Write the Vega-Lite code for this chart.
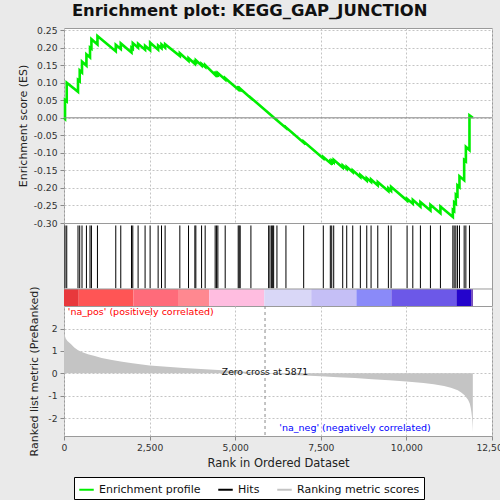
{
  "$schema": "https://vega.github.io/schema/vega-lite/v6.json",
  "background": "#eaeaea",
  "padding": {"left": 16, "top": 3, "right": 0, "bottom": 0},
  "title": {
    "text": "Enrichment plot: KEGG_GAP_JUNCTION",
    "font": "DejaVu Sans",
    "fontSize": 16.4,
    "fontWeight": "bold",
    "color": "#111111",
    "anchor": "middle",
    "dx": -13,
    "offset": 6
  },
  "datasets": {
    "es": [
      {"rank": 0, "es": 0.0},
      {"rank": 30, "es": -0.003}, {"rank": 30, "es": 0.051},
      {"rank": 80, "es": 0.047}, {"rank": 80, "es": 0.100},
      {"rank": 409, "es": 0.074}, {"rank": 409, "es": 0.108},
      {"rank": 459, "es": 0.104}, {"rank": 459, "es": 0.135},
      {"rank": 526, "es": 0.129}, {"rank": 526, "es": 0.160},
      {"rank": 655, "es": 0.149}, {"rank": 655, "es": 0.181},
      {"rank": 760, "es": 0.172}, {"rank": 760, "es": 0.200},
      {"rank": 801, "es": 0.197}, {"rank": 801, "es": 0.224},
      {"rank": 977, "es": 0.209}, {"rank": 977, "es": 0.233},
      {"rank": 1512, "es": 0.190}, {"rank": 1512, "es": 0.208},
      {"rank": 1658, "es": 0.196}, {"rank": 1658, "es": 0.212},
      {"rank": 1971, "es": 0.186}, {"rank": 1971, "es": 0.200},
      {"rank": 2009, "es": 0.197}, {"rank": 2009, "es": 0.213},
      {"rank": 2164, "es": 0.200}, {"rank": 2164, "es": 0.211},
      {"rank": 2368, "es": 0.194}, {"rank": 2368, "es": 0.205},
      {"rank": 2515, "es": 0.193}, {"rank": 2515, "es": 0.214},
      {"rank": 2749, "es": 0.194}, {"rank": 2749, "es": 0.206},
      {"rank": 2848, "es": 0.198}, {"rank": 2848, "es": 0.209},
      {"rank": 2953, "es": 0.200}, {"rank": 2953, "es": 0.210},
      {"rank": 3383, "es": 0.176}, {"rank": 3383, "es": 0.184},
      {"rank": 3637, "es": 0.162}, {"rank": 3637, "es": 0.170},
      {"rank": 3822, "es": 0.154}, {"rank": 3822, "es": 0.160},
      {"rank": 3851, "es": 0.158}, {"rank": 3851, "es": 0.164},
      {"rank": 4018, "es": 0.149}, {"rank": 4018, "es": 0.154},
      {"rank": 4123, "es": 0.145}, {"rank": 4123, "es": 0.150},
      {"rank": 4415, "es": 0.122}, {"rank": 4415, "es": 0.126},
      {"rank": 4456, "es": 0.1225}, {"rank": 4456, "es": 0.1265},
      {"rank": 4494, "es": 0.1233}, {"rank": 4494, "es": 0.1273},
      {"rank": 4708, "es": 0.109}, {"rank": 4708, "es": 0.113},
      {"rank": 5088, "es": 0.081}, {"rank": 5088, "es": 0.084},
      {"rank": 5117, "es": 0.0815}, {"rank": 5117, "es": 0.0835},
      {"rank": 5146, "es": 0.081}, {"rank": 5146, "es": 0.083},
      {"rank": 5459, "es": 0.056}, {"rank": 5459, "es": 0.057},
      {"rank": 6219, "es": -0.007},
      {"rank": 6482, "es": -0.029}, {"rank": 6482, "es": -0.027},
      {"rank": 7000, "es": -0.071}, {"rank": 7000, "es": -0.068},
      {"rank": 7573, "es": -0.116}, {"rank": 7573, "es": -0.112},
      {"rank": 7778, "es": -0.129}, {"rank": 7778, "es": -0.124},
      {"rank": 7819, "es": -0.1275}, {"rank": 7819, "es": -0.122},
      {"rank": 7877, "es": -0.127}, {"rank": 7877, "es": -0.120},
      {"rank": 8140, "es": -0.142}, {"rank": 8140, "es": -0.136},
      {"rank": 8257, "es": -0.146}, {"rank": 8257, "es": -0.140},
      {"rank": 8433, "es": -0.155}, {"rank": 8433, "es": -0.150},
      {"rank": 8655, "es": -0.169}, {"rank": 8655, "es": -0.163},
      {"rank": 8842, "es": -0.179}, {"rank": 8842, "es": -0.172},
      {"rank": 8968, "es": -0.183}, {"rank": 8968, "es": -0.176},
      {"rank": 9164, "es": -0.193}, {"rank": 9164, "es": -0.183},
      {"rank": 9474, "es": -0.209}, {"rank": 9474, "es": -0.201},
      {"rank": 9553, "es": -0.208}, {"rank": 9553, "es": -0.197},
      {"rank": 10020, "es": -0.236}, {"rank": 10020, "es": -0.231},
      {"rank": 10187, "es": -0.245}, {"rank": 10187, "es": -0.234},
      {"rank": 10409, "es": -0.253}, {"rank": 10409, "es": -0.240},
      {"rank": 10702, "es": -0.264}, {"rank": 10702, "es": -0.248},
      {"rank": 10994, "es": -0.272}, {"rank": 10994, "es": -0.253},
      {"rank": 11357, "es": -0.283}, {"rank": 11357, "es": -0.263},
      {"rank": 11395, "es": -0.266}, {"rank": 11395, "es": -0.241},
      {"rank": 11444, "es": -0.245}, {"rank": 11444, "es": -0.219},
      {"rank": 11491, "es": -0.223}, {"rank": 11491, "es": -0.193},
      {"rank": 11550, "es": -0.198}, {"rank": 11550, "es": -0.167},
      {"rank": 11687, "es": -0.178}, {"rank": 11687, "es": -0.120},
      {"rank": 11737, "es": -0.124}, {"rank": 11737, "es": -0.083},
      {"rank": 11842, "es": -0.092}, {"rank": 11842, "es": 0.007},
      {"rank": 11940, "es": 0.0}
    ],
    "hits": [
      {"rank": 30}, {"rank": 80}, {"rank": 409}, {"rank": 459}, {"rank": 526},
      {"rank": 655}, {"rank": 760}, {"rank": 801}, {"rank": 977}, {"rank": 1512},
      {"rank": 1658}, {"rank": 1971}, {"rank": 2009}, {"rank": 2164}, {"rank": 2368},
      {"rank": 2515}, {"rank": 2749}, {"rank": 2848}, {"rank": 2953}, {"rank": 3383},
      {"rank": 3637}, {"rank": 3822}, {"rank": 3851}, {"rank": 4018}, {"rank": 4123},
      {"rank": 4415}, {"rank": 4456}, {"rank": 4494}, {"rank": 4708}, {"rank": 5088},
      {"rank": 5117}, {"rank": 5146}, {"rank": 5459}, {"rank": 5977}, {"rank": 6015},
      {"rank": 6064}, {"rank": 6094}, {"rank": 6123}, {"rank": 6219}, {"rank": 6482},
      {"rank": 7000}, {"rank": 7573}, {"rank": 7778}, {"rank": 7819}, {"rank": 7877},
      {"rank": 8140}, {"rank": 8257}, {"rank": 8433}, {"rank": 8655}, {"rank": 8842},
      {"rank": 8968}, {"rank": 9164}, {"rank": 9474}, {"rank": 9553}, {"rank": 10020},
      {"rank": 10187}, {"rank": 10409}, {"rank": 10702}, {"rank": 10994}, {"rank": 11357},
      {"rank": 11395}, {"rank": 11444}, {"rank": 11491}, {"rank": 11550}, {"rank": 11687},
      {"rank": 11737}, {"rank": 11842}
    ],
    "metric": [
      {"rank": 0, "m": 1.88}, {"rank": 10, "m": 1.78}, {"rank": 30, "m": 1.66},
      {"rank": 50, "m": 1.56}, {"rank": 100, "m": 1.45}, {"rank": 200, "m": 1.31},
      {"rank": 300, "m": 1.16}, {"rank": 400, "m": 1.04}, {"rank": 500, "m": 0.96},
      {"rank": 700, "m": 0.85}, {"rank": 900, "m": 0.77}, {"rank": 1100, "m": 0.69},
      {"rank": 1400, "m": 0.60}, {"rank": 1700, "m": 0.52}, {"rank": 2000, "m": 0.45},
      {"rank": 2500, "m": 0.35}, {"rank": 3000, "m": 0.29}, {"rank": 3500, "m": 0.24},
      {"rank": 4000, "m": 0.19}, {"rank": 4500, "m": 0.15}, {"rank": 5000, "m": 0.11},
      {"rank": 5500, "m": 0.05}, {"rank": 5871, "m": 0.0}, {"rank": 6200, "m": -0.03},
      {"rank": 6700, "m": -0.07}, {"rank": 7500, "m": -0.13}, {"rank": 8000, "m": -0.17},
      {"rank": 8500, "m": -0.21}, {"rank": 9000, "m": -0.26}, {"rank": 9500, "m": -0.31},
      {"rank": 10000, "m": -0.36}, {"rank": 10500, "m": -0.43}, {"rank": 10800, "m": -0.49},
      {"rank": 11100, "m": -0.56}, {"rank": 11300, "m": -0.64}, {"rank": 11500, "m": -0.76},
      {"rank": 11600, "m": -0.86}, {"rank": 11700, "m": -0.98}, {"rank": 11800, "m": -1.18},
      {"rank": 11850, "m": -1.35}, {"rank": 11880, "m": -1.55}, {"rank": 11900, "m": -1.75},
      {"rank": 11915, "m": -1.95}, {"rank": 11925, "m": -2.15}, {"rank": 11935, "m": -2.45},
      {"rank": 11940, "m": -2.62}
    ],
    "band": [
      {"start": 0, "end": 430, "seg": 0},
      {"start": 430, "end": 2030, "seg": 1},
      {"start": 2030, "end": 3330, "seg": 2},
      {"start": 3330, "end": 4240, "seg": 3},
      {"start": 4240, "end": 5850, "seg": 4},
      {"start": 5850, "end": 7220, "seg": 5},
      {"start": 7220, "end": 8540, "seg": 6},
      {"start": 8540, "end": 9560, "seg": 7},
      {"start": 9560, "end": 11460, "seg": 8},
      {"start": 11460, "end": 11900, "seg": 9},
      {"start": 11900, "end": 11940, "seg": 10}
    ]
  },
  "spacing": 0,
  "bounds": "flush",
  "resolve": {"scale": {"color": "shared"}, "legend": {"color": "shared"}},
  "vconcat": [
    {
      "width": 428,
      "height": 195,
      "layer": [
        {
          "data": {"name": "es"},
          "mark": {"type": "line", "strokeWidth": 2.6},
          "encoding": {
            "x": {
              "field": "rank", "type": "quantitative", "sort": null,
              "scale": {"domain": [0, 12500], "nice": false},
              "axis": {"labels": false, "ticks": false, "title": null, "grid": true, "tickCount": 20, "values": [0, 2500, 5000, 7500, 10000, 12500]}
            },
            "y": {
              "field": "es", "type": "quantitative",
              "scale": {"domain": [-0.3, 0.256], "nice": false, "zero": false},
              "axis": {
                "title": "Enrichment score (ES)",
                "values": [-0.3, -0.25, -0.2, -0.15, -0.1, -0.05, 0, 0.05, 0.1, 0.15, 0.2, 0.25],
                "tickCount": 30,
                "labelExpr": "replace(format(datum.value, '.2f'), '\u2212', '-')",
                "labelOverlap": false,
                "labelFlush": false,
                "titlePadding": 5
              }
            },
            "color": {
              "datum": "Enrichment profile", "type": "nominal",
              "scale": {"domain": ["Enrichment profile", "Hits", "Ranking metric scores"], "range": ["#00ee00", "#000000", "#c4c4c4"]},
              "legend": {
                "orient": "none", "legendX": 10, "legendY": 449, "direction": "horizontal",
                "title": null, "symbolType": "stroke", "symbolSize": 210, "symbolStrokeWidth": 2,
                "labelFontSize": 11, "labelFont": "DejaVu Sans", "labelColor": "#111111",
                "columnPadding": 13, "padding": 4, "strokeColor": "#000000", "fillColor": "#ffffff",
                "encode": {"symbols": {"update": {"stroke": {"scale": "color", "field": "value"}, "strokeWidth": {"value": 2}, "fill": {"value": "transparent"}}}}
              }
            }
          }
        },
        {
          "data": {"values": [{"z": 0}]},
          "mark": {"type": "rule", "color": "#8a8a8a", "strokeWidth": 1},
          "encoding": {
            "y": {"field": "z", "type": "quantitative"}
          }
        }
      ]
    },
    {
      "width": 428,
      "height": 83,
      "layer": [
        {
          "data": {"name": "band"},
          "mark": {"type": "rect"},
          "encoding": {
            "x": {"field": "start", "type": "quantitative", "scale": {"domain": [0, 12500], "nice": false}, "axis": null},
            "x2": {"field": "end"},
            "y": {"datum": 0, "type": "quantitative", "scale": {"domain": [0, 1], "nice": false}, "axis": null},
            "y2": {"datum": 0.205},
            "fill": {
              "field": "seg", "type": "ordinal",
              "scale": {"domain": [0, 1, 2, 3, 4, 5, 6, 7, 8, 9, 10], "range": ["#e8383c", "#ff5555", "#ff6b7a", "#ff8890", "#ffbde0", "#d9d7f7", "#c5bff6", "#8a8af9", "#6c58e8", "#2404cc", "#5a2aa8"]},
              "legend": null
            }
          }
        },
        {
          "data": {"values": [{"z": 0.205}]},
          "mark": {"type": "rule", "color": "#9a9a9a", "strokeWidth": 1},
          "encoding": {"y": {"field": "z", "type": "quantitative", "axis": null}}
        },
        {
          "data": {"name": "hits"},
          "mark": {"type": "rule", "strokeWidth": 1},
          "encoding": {
            "x": {"field": "rank", "type": "quantitative", "axis": null},
            "y": {"datum": 0.215, "type": "quantitative", "axis": null},
            "y2": {"datum": 0.97},
            "color": {"datum": "Hits", "type": "nominal", "scale": {"domain": ["Enrichment profile", "Hits", "Ranking metric scores"], "range": ["#00ee00", "#000000", "#c4c4c4"]}}
          }
        }
      ]
    },
    {
      "width": 428,
      "height": 130,
      "layer": [
        {
          "data": {"name": "metric"},
          "mark": {"type": "area", "interpolate": "linear"},
          "encoding": {
            "x": {
              "field": "rank", "type": "quantitative",
              "scale": {"domain": [0, 12500], "nice": false},
              "axis": {"title": "Rank in Ordered Dataset", "titleFontSize": 11.5, "format": ",d", "values": [0, 2500, 5000, 7500, 10000, 12500], "tickCount": 20, "grid": true, "titlePadding": 5, "labelFlush": false, "labelOverlap": false}
            },
            "y": {
              "field": "m", "type": "quantitative",
              "scale": {"domain": [-2.8, 3.01], "nice": false, "zero": false},
              "axis": {"title": "Ranked list metric (PreRanked)", "values": [-2, -1, 0, 1, 2], "tickCount": 20, "labelExpr": "replace(format(datum.value, 'd'), '\u2212', '-')", "grid": true, "titlePadding": 8, "labelOverlap": false, "labelFlush": false}
            },
            "y2": {"datum": 0},
            "color": {"datum": "Ranking metric scores", "type": "nominal", "scale": {"domain": ["Enrichment profile", "Hits", "Ranking metric scores"], "range": ["#00ee00", "#000000", "#c4c4c4"]}}
          }
        },
        {
          "data": {"values": [{}]},
          "mark": {"type": "rule", "color": "#8a8a8a", "strokeDash": [3, 3], "strokeWidth": 1},
          "encoding": {"x": {"datum": 5871, "type": "quantitative"}}
        },
        {
          "data": {"values": [{}]},
          "mark": {"type": "text", "text": "Zero cross at 5871", "align": "center", "baseline": "middle", "fontSize": 9.2, "color": "#111111"},
          "encoding": {"x": {"datum": 5871, "type": "quantitative"}, "y": {"datum": 0.05, "type": "quantitative"}}
        },
        {
          "data": {"values": [{}]},
          "mark": {"type": "text", "text": "'na_pos' (positively correlated)", "align": "left", "baseline": "middle", "fontSize": 9.5, "color": "#ff0000"},
          "encoding": {"x": {"datum": 110, "type": "quantitative"}, "y": {"datum": 2.72, "type": "quantitative"}}
        },
        {
          "data": {"values": [{}]},
          "mark": {"type": "text", "text": "'na_neg' (negatively correlated)", "align": "left", "baseline": "middle", "fontSize": 9.5, "color": "#0000ff"},
          "encoding": {"x": {"datum": 6290, "type": "quantitative"}, "y": {"datum": -2.45, "type": "quantitative"}}
        }
      ]
    }
  ],
  "config": {
    "font": "DejaVu Sans",
    "view": {"stroke": "#9a9a9a", "fill": "#ffffff"},
    "axis": {
      "labelFontSize": 9.2,
      "labelColor": "#333333",
      "labelOverlap": false,
      "titleFontSize": 11,
      "titleFontWeight": "normal",
      "titleColor": "#222222",
      "gridColor": "#c4c4c4",
      "gridDash": [2, 2],
      "domain": false,
      "tickColor": "#8a8a8a",
      "tickSize": 4,
      "labelPadding": 3
    }
  }
}
